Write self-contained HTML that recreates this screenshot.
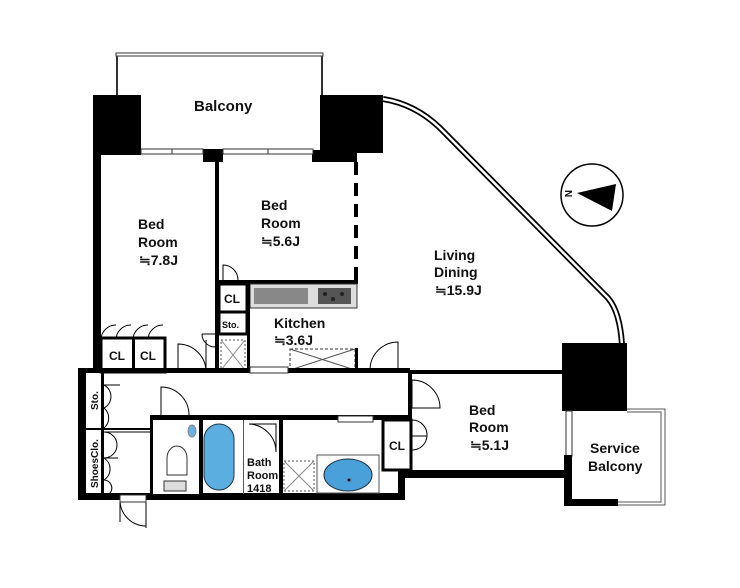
<!DOCTYPE html>
<html><head><meta charset="utf-8"><style>
html,body{margin:0;padding:0;background:#fff}
svg{display:block}
text{font-family:"Liberation Sans","Noto Sans CJK JP",sans-serif;font-weight:bold;fill:#111}
</style></head><body>
<svg width="740" height="588" viewBox="0 0 740 588" xmlns="http://www.w3.org/2000/svg">
<!-- Balcony -->
<rect x="116" y="53" width="207" height="3" fill="#fff" stroke="#333" stroke-width="1"/>
<line x1="117" y1="56" x2="117" y2="96" stroke="#333" stroke-width="2"/>
<line x1="322" y1="56" x2="322" y2="96" stroke="#333" stroke-width="2"/>
<!-- pillars -->
<rect x="93" y="95" width="48" height="60" fill="#000"/>
<rect x="320" y="95" width="63" height="58" fill="#000"/>
<rect x="312" y="150" width="45" height="12" fill="#000"/>
<rect x="203" y="149" width="20" height="13" fill="#000"/>
<!-- windows -->
<g stroke="#333" stroke-width="1" fill="#fff">
<rect x="141" y="149" width="62" height="5"/><rect x="223" y="149" width="90" height="5"/>
</g>
<line x1="172" y1="149" x2="172" y2="154" stroke="#333"/><line x1="268" y1="149" x2="268" y2="154" stroke="#333"/>
<!-- curved wall -->
<path d="M383 99 Q415 104 440 128 L608 298 Q620 312 622 345" fill="none" stroke="#000" stroke-width="6"/>
<path d="M383 99 Q415 104 440 128 L608 298 Q620 312 622 345" fill="none" stroke="#fff" stroke-width="2.5"/>
<!-- compass -->
<circle cx="592" cy="195" r="31" fill="#fff" stroke="#000" stroke-width="1.5"/>
<polygon points="577,193 616,184 612,211" fill="#000"/>
<text x="0" y="0" font-size="10" transform="translate(565,190) rotate(90)">N</text>
<!-- left walls -->
<rect x="93" y="150" width="8" height="222" fill="#000"/>
<rect x="215" y="160" width="4" height="212" fill="#000"/>
<!-- dashed wall -->
<line x1="356" y1="162" x2="356" y2="282" stroke="#000" stroke-width="4" stroke-dasharray="13,8"/>
<rect x="215" y="280" width="143" height="4" fill="#000"/>
<!-- kitchen counter -->
<rect x="250" y="284" width="107" height="24" fill="#ddd" stroke="#333" stroke-width="1"/>
<rect x="254" y="288" width="54" height="16" fill="#888"/>
<rect x="318" y="288" width="33" height="16" fill="#555"/>
<circle cx="325" cy="294" r="2" fill="#222"/><circle cx="333" cy="299" r="2" fill="#222"/><circle cx="342" cy="294" r="2" fill="#222"/>
<!-- CL/Sto boxes -->
<rect x="219" y="284" width="28" height="28" fill="#fff" stroke="#000" stroke-width="3"/>
<rect x="219" y="312" width="28" height="22" fill="#fff" stroke="#000" stroke-width="3"/>
<rect x="247" y="284" width="3" height="88" fill="#000"/>
<rect x="221" y="340" width="24" height="30" fill="#fff" stroke="#555" stroke-dasharray="2,2"/>
<path d="M221 340 L245 370 M245 340 L221 370" stroke="#888" stroke-width="1"/>
<rect x="290" y="349" width="65" height="21" fill="#fff" stroke="#333" stroke-dasharray="3,2"/>
<path d="M290 349 L355 370 M355 349 L290 370" stroke="#555" stroke-width="1"/>
<rect x="355" y="348" width="3" height="24" fill="#000"/>
<!-- door arcs upper -->
<g fill="none" stroke="#000" stroke-width="1">
<path d="M223 280 L223 265 A15 15 0 0 1 238 280"/>
<path d="M202 334 A13 13 0 0 0 215 347"/><path d="M202 334 L215 334"/>
<path d="M178 370 L178 344 A28 28 0 0 1 206 370"/><path d="M206 340 L206 370"/>
<path d="M370 370 A28 28 0 0 1 398 342 L398 370"/>
<path d="M101 340 A15 15 0 0 1 116 325 M116 340 A15 15 0 0 1 131 325 M133 340 A15 15 0 0 1 148 325 M148 340 A15 15 0 0 1 163 325"/>
</g>
<rect x="101" y="338" width="64" height="34" fill="#fff" stroke="#000" stroke-width="3"/>
<rect x="132" y="338" width="3" height="34" fill="#000"/>
<!-- main horizontal wall -->
<rect x="78" y="368" width="332" height="5" fill="#000"/>
<rect x="250" y="367" width="38" height="6" fill="#fff" stroke="#333"/>
<!-- Bedroom 5.1J -->
<rect x="410" y="370" width="155" height="4" fill="#000"/>
<rect x="408" y="370" width="4" height="52" fill="#000"/>
<rect x="383" y="420" width="28" height="50" fill="#fff" stroke="#000" stroke-width="3"/>
<rect x="400" y="470" width="167" height="8" fill="#000"/>
<rect x="398" y="470" width="7" height="30" fill="#000"/>
<path d="M412 408 L412 380 A28 28 0 0 1 440 408 Z" fill="none" stroke="#000"/>
<path d="M412 420 A15 15 0 0 1 427 436 A15 15 0 0 1 412 450 M412 420 L412 450 M412 436 L427 436" fill="none" stroke="#000"/>
<!-- right pillar + service balcony -->
<rect x="562" y="343" width="65" height="68" fill="#000"/>
<rect x="566" y="411" width="6" height="45" fill="#fff" stroke="#333"/>
<rect x="564" y="455" width="8" height="50" fill="#000"/>
<rect x="564" y="499" width="54" height="7" fill="#000"/>
<g fill="none" stroke="#555" stroke-width="1">
<path d="M627 409 L665 409 L665 505 L618 505"/><path d="M627 412 L661 412 L661 502 L618 502"/>
</g>
<!-- corridor -->
<rect x="78" y="368" width="8" height="132" fill="#000"/>
<rect x="78" y="493" width="322" height="7" fill="#000"/>
<rect x="150" y="415" width="260" height="5" fill="#000"/>
<rect x="101" y="373" width="3" height="123" fill="#000"/>
<rect x="86" y="428" width="68" height="2" fill="#000"/>
<rect x="150" y="415" width="4" height="80" fill="#000"/>
<rect x="103" y="376" width="0" height="0"/>
<g fill="none" stroke="#000" stroke-width="1">
<path d="M104 385 A13 13 0 0 1 104 408 A13 13 0 0 1 104 428 M104 385 L120 385"/>
<path d="M104 432 A13 13 0 0 1 104 458 A13 13 0 0 1 104 480 A8 8 0 0 1 110 493 M104 432 L150 432 M104 458 L118 458"/>
<path d="M161 415 L161 387 A28 28 0 0 1 189 415"/>
<path d="M120 500 L120 522 M146 500 L146 528 M120 500 A26 26 0 0 0 146 526"/>
</g>
<rect x="120" y="495" width="26" height="7" fill="#fff" stroke="#333"/>
<!-- bathroom walls -->
<rect x="153" y="420" width="47" height="74" fill="#fff"/>
<rect x="199" y="418" width="4" height="77" fill="#000"/>
<rect x="279" y="418" width="4" height="77" fill="#000"/>
<rect x="243" y="420" width="1" height="74" fill="#555"/>
<rect x="338" y="416" width="35" height="6" fill="#fff" stroke="#333"/>
<ellipse cx="192" cy="431" rx="4" ry="6" fill="#6ab0e0" stroke="#888"/>
<path d="M167 475 L167 458 A10 12 0 0 1 187 458 L187 475 Z" fill="#fff" stroke="#333"/>
<rect x="164" y="481" width="22" height="10" fill="#ddd" stroke="#333"/>
<rect x="204" y="424" width="30" height="66" rx="15" fill="#5aaee0" stroke="#234"/>
<path d="M249 424 A28 28 0 0 1 276 452 L276 424 Z" fill="none" stroke="#000"/>
<rect x="284" y="461" width="30" height="30" fill="#fff" stroke="#555" stroke-dasharray="2,2"/>
<path d="M284 461 L314 491 M314 461 L284 491" stroke="#888"/>
<rect x="317" y="455" width="62" height="38" fill="#fff" stroke="#555"/>
<ellipse cx="348" cy="475" rx="24" ry="16" fill="#4aa0d8" stroke="#234"/>
<circle cx="349" cy="480" r="1.5" fill="#000"/>
<!-- text -->
<text x="194" y="111" font-size="15">Balcony</text>
<g font-size="14">
<text x="138" y="229">Bed</text><text x="138" y="247">Room</text><text x="139" y="265">≒7.8J</text>
<text x="261" y="210">Bed</text><text x="261" y="228">Room</text><text x="261" y="246">≒5.6J</text>
<text x="434" y="260">Living</text><text x="434" y="277">Dining</text><text x="435" y="295">≒15.9J</text>
<text x="274" y="328">Kitchen</text><text x="274" y="345">≒3.6J</text>
<text x="469" y="415">Bed</text><text x="469" y="432">Room</text><text x="470" y="450">≒5.1J</text>
<text x="590" y="453">Service</text><text x="588" y="471">Balcony</text>
</g>
<g font-size="12">
<text x="224" y="303">CL</text><text x="109" y="360">CL</text><text x="140" y="360">CL</text><text x="389" y="450">CL</text>
</g>
<text x="222" y="328" font-size="9">Sto.</text>
<g font-size="11"><text x="247" y="466">Bath</text><text x="247" y="479">Room</text><text x="247" y="492">1418</text></g>
<text font-size="10" transform="translate(98,410) rotate(-90)">Sto.</text>
<text font-size="10" transform="translate(98,488) rotate(-90)">ShoesClo.</text>
</svg>
</body></html>
